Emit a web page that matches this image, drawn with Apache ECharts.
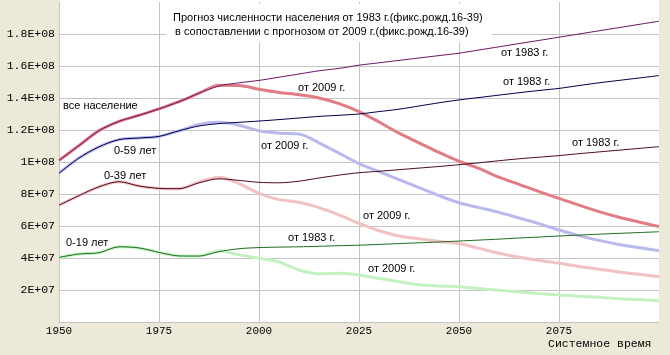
<!DOCTYPE html>
<html>
<head>
<meta charset="utf-8">
<script src="https://cdn.jsdelivr.net/npm/echarts@6/dist/echarts.min.js"></script>
<style>
html,body{margin:0;padding:0;background:#ECE9D8;}
#c{width:670px;height:355px;}
</style>
</head>
<body>
<div id="c"></div>
<script>
// Years (x values)
const years = [1950,1955,1960,1965,1970,1975,1980,1985,1990,1995,2000,2005,2010,2015,2020,2025,2030,2035,2040,2045,2050,2055,2060,2065,2070,2075,2080,2085,2090,2095,2100];

// Values in millions of people
// Forecast from 1983
const total1983 = [101,110.3,119.6,125.4,129.2,133.2,137.7,143,147.5,149.5,151,153,155,157,158.5,160.5,162,163.5,165,166.5,168,170,172,174,176,178,180,182,184,186,188];
const age059_1983 = [93,102.5,109.5,114,115,116,119.5,122.5,124,124.8,125.6,126.5,127.5,128.5,129.2,130,131.5,133,135,137,138.8,140.3,141.8,143.3,144.7,146,147.8,149.5,151,152.5,154];
const age039_1983 = [73,79,84.5,87.7,85,83.5,83.3,87,89.5,88.5,87.3,87,88,90,91.8,93.3,94.2,95.2,96.2,97.2,98.3,99.5,100.8,102,103,104,105.2,106.3,107.4,108.5,109.6];
const age019_1983 = [40.4,42.5,43.3,47,46.3,43.5,41.3,41.2,44,45.8,46.5,46.8,47,47.3,47.7,48,48.5,49,49.5,50,50.6,51.2,51.8,52.5,53.1,53.75,54.3,54.9,55.4,55.9,56.4];

// Forecast from 2009
const total2009 = [101,110.3,119.6,125.4,129.2,133.2,137.7,143,148,147.8,145.5,143.5,142,140,136.5,131.5,125,118,112,106,100.5,96,90.5,86,81.5,77.3,73,69,65.5,62.5,59.6];
const age059_2009 = [93,102.5,109.5,114,115,116,119.5,123.5,124.8,123,119.5,118,117.5,112,105.5,99,94,89,84,79,74.5,71.5,68.5,65,61.5,57.5,54,51,48.5,46.5,44.6];
const age039_2009 = [73,79,84.5,87.7,85,83.5,83.3,87.5,90.5,86.5,80.4,76.5,74.8,71.5,67,61.7,57,53.8,52,50.3,49,46,43,40.5,38.5,36.7,34.7,33,31.3,29.8,28.3];
const age019_2009 = [40.4,42.5,43.3,47,46.3,43.5,41.3,41.2,44.5,42,39.8,37.5,32.5,30.2,30.4,29.4,27.3,25.2,23.3,22.5,22,20.9,19.8,18.8,17.8,16.9,16.1,15.4,14.6,14,13.3];

// Axis ticks
const xTicks = [1950,1975,2000,2025,2050,2075];
const yTickStep = 20;

const titleLines = ['Прогноз численности населения от 1983 г.(фикс.рожд.16-39)','в сопоставлении с прогнозом от 2009 г.(фикс.рожд.16-39)'];
const xAxisTitle = 'Системное время';

function pairs(arr){ return years.map((y,i)=>[y,arr[i]]); }
function fmtE(v){
  const n = v*1e6;
  if (n <= 0) return '';
  const e = Math.floor(Math.log10(n)+1e-9);
  let m = Math.round(n/Math.pow(10,e)*100)/100;
  return m + 'E+' + (e<10?'0':'') + e;
}

function mk(name, arr, color, width, z){
  return {name, type:'line', data:pairs(arr), showSymbol:false, smooth:0.3,
    lineStyle:{color, width}, itemStyle:{color}, z, silent:true, animation:false};
}

const labFont = '11px "Liberation Sans", Arial, sans-serif';
function txt(x,y,t){
  return {type:'text', left:x, top:y-7, z:100, style:{text:t, font:labFont, fill:'#000'}};
}

const chart = echarts.init(document.getElementById('c'));
chart.setOption({
  backgroundColor:'#ECE9D8',
  animation:false,
  grid:{left:59,right:11,top:2,bottom:33,show:true,backgroundColor:'#fff',borderWidth:0},
  xAxis:{type:'value',min:1950,max:2100,interval:25,
    axisLine:{show:false},axisTick:{show:false},
    splitLine:{show:true,showMaxLine:false,lineStyle:{color:'#c4c4c4',width:1}},
    axisLabel:{showMaxLabel:false,margin:4,color:'#000',fontFamily:'"Liberation Mono", "Courier New", monospace',fontSize:11,
      formatter:v=>xTicks.indexOf(v)>=0?String(v):''}},
  yAxis:{type:'value',min:0,max:200,interval:yTickStep,
    axisLine:{show:false},axisTick:{show:false},
    splitLine:{show:true,showMaxLine:false,lineStyle:{color:'#c4c4c4',width:1}},
    axisLabel:{showMaxLabel:false,showMinLabel:false,margin:4,color:'#000',fontFamily:'"Liberation Mono", "Courier New", monospace',fontSize:11.5,formatter:fmtE}},
  series:[
    mk('все население 2009', total2009, '#e27c84', 3, 2),
    mk('0-59 2009', age059_2009, '#b9b9ee', 3, 2),
    mk('0-39 2009', age039_2009, '#f2c2c2', 3, 2),
    mk('0-19 2009', age019_2009, '#c2f2c2', 3, 2),
    mk('все население 1983', total1983, '#6e1466', 1, 3),
    mk('0-59 1983', age059_1983, '#000050', 1, 3),
    mk('0-39 1983', age039_1983, '#4e0a22', 1, 3),
    mk('0-19 1983', age019_1983, '#1e6e1e', 1, 3)
  ],
  graphic:[
    {type:'rect', shape:{x:59,y:0,width:600,height:2}, style:{fill:'#fff'}, z:0},
    {type:'rect', shape:{x:166,y:4,width:326,height:38}, style:{fill:'#fff'}, z:50},
    txt(173,19,titleLines[0]),
    txt(175,33,titleLines[1]),
    txt(63,107,'все население'),
    txt(114,152,'0-59 лет'),
    txt(104,177,'0-39 лет'),
    txt(66,244,'0-19 лет'),
    txt(298,89,'от 2009 г.'),
    txt(261,147,'от 2009 г.'),
    txt(501,54,'от 1983 г.'),
    txt(503,83,'от 1983 г.'),
    txt(572,144,'от 1983 г.'),
    txt(363,217,'от 2009 г.'),
    txt(288,239,'от 1983 г.'),
    txt(368,270,'от 2009 г.'),
    {type:'text', left:548, top:338, z:100, style:{text:xAxisTitle, font:'11.5px "Liberation Mono", "Courier New", monospace', fill:'#000'}}
  ]
});
</script>
</body>
</html>
